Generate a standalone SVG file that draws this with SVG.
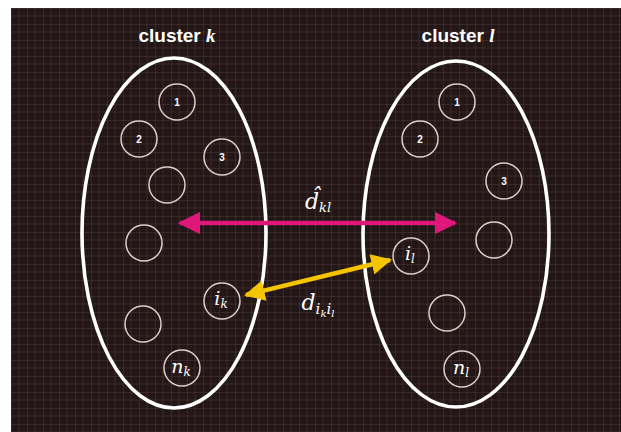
<svg xmlns="http://www.w3.org/2000/svg" width="621" height="432" viewBox="0 0 621 432">
<defs>
<pattern id="grid" x="11" y="8" width="16" height="16" patternUnits="userSpaceOnUse">
<rect width="16" height="16" fill="#231616"/>
<path d="M8 0V16M0 8H16" stroke="#3a2828" stroke-width="1"/>
<path d="M0 0V16M0 0H16" stroke="#4e3a3a" stroke-width="1"/>
</pattern>
<marker id="mh" viewBox="0 0 10 10" refX="9" refY="5" markerWidth="5" markerHeight="5" markerUnits="strokeWidth" orient="auto-start-reverse">
<path d="M0 0L10 5L0 10z" fill="#e0177a"/>
</marker>
<marker id="yh" viewBox="0 0 10 10" refX="9" refY="5" markerWidth="4.6" markerHeight="4.6" markerUnits="strokeWidth" orient="auto-start-reverse">
<path d="M0 0L10 5L0 10z" fill="#f5c400"/>
</marker>
</defs>
<style>
.cl{fill:none;stroke:#ffffff;stroke-width:3.6}
.nd{fill:none;stroke:#d9d0cc;stroke-width:1.5}
.num{font-family:"Liberation Sans",Arial,sans-serif;font-weight:bold;font-size:10px;fill:#ffffff;text-anchor:middle}
.var{font-family:"DejaVu Serif","Liberation Serif",serif;font-style:italic;font-size:19px;fill:#ffffff;text-anchor:middle}
.sub{font-size:12px}
.ttl{font-family:"Liberation Sans",Arial,sans-serif;font-weight:bold;font-size:19px;fill:#ffffff;text-anchor:middle}
</style>
<rect x="0" y="0" width="621" height="432" fill="#ffffff"/>
<rect x="11" y="8" width="610" height="424" fill="url(#grid)"/>

<g id="cluster-k">
<ellipse class="cl" cx="174" cy="233" rx="92" ry="175"/>
<text class="ttl" x="177" y="42">cluster <tspan font-style="italic" font-family="'Liberation Serif',serif">k</tspan></text>
</g>
<g id="cluster-l">
<ellipse class="cl" cx="456" cy="234" rx="93" ry="173"/>
<text class="ttl" x="458" y="42">cluster <tspan font-style="italic" font-family="'Liberation Serif',serif">l</tspan></text>
</g>

<g id="k1"><circle class="nd" cx="177" cy="102" r="18"/><text class="num" x="177" y="106">1</text></g>
<g id="k2"><circle class="nd" cx="139" cy="139" r="18"/><text class="num" x="139" y="143">2</text></g>
<g id="k3"><circle class="nd" cx="222" cy="157" r="18"/><text class="num" x="222" y="161">3</text></g>
<g id="k4"><circle class="nd" cx="167" cy="185" r="18"/></g>
<g id="k5"><circle class="nd" cx="144" cy="243" r="18"/></g>
<g id="ik"><circle class="nd" cx="222" cy="301" r="18"/><text class="var" x="221" y="305">i<tspan class="sub" dy="3">k</tspan></text></g>
<g id="k6"><circle class="nd" cx="143" cy="324" r="18"/></g>
<g id="nk"><circle class="nd" cx="182" cy="368" r="18"/><text class="var" x="181" y="373">n<tspan class="sub" dy="3">k</tspan></text></g>

<g id="l1"><circle class="nd" cx="457" cy="102" r="18"/><text class="num" x="457" y="106">1</text></g>
<g id="l2"><circle class="nd" cx="420" cy="139" r="18"/><text class="num" x="420" y="143">2</text></g>
<g id="l3"><circle class="nd" cx="504" cy="181" r="18"/><text class="num" x="504" y="185">3</text></g>
<g id="il"><circle class="nd" cx="411" cy="256" r="18"/><text class="var" x="410" y="260">i<tspan class="sub" dy="3">l</tspan></text></g>
<g id="l4"><circle class="nd" cx="494" cy="240" r="18"/></g>
<g id="l5"><circle class="nd" cx="447" cy="313" r="18"/></g>
<g id="nl"><circle class="nd" cx="462" cy="369" r="18"/><text class="var" x="461" y="374">n<tspan class="sub" dy="3">l</tspan></text></g>

<g id="connectors">
<line x1="180" y1="223" x2="455" y2="223" stroke="#e0177a" stroke-width="4.5" marker-start="url(#mh)" marker-end="url(#mh)"/>
<line x1="246" y1="295" x2="390" y2="260" stroke="#f5c400" stroke-width="4.5" marker-start="url(#yh)" marker-end="url(#yh)"/>
</g>
<g id="labels">
<text class="var" x="318" y="209" style="font-size:22px">d&#x302;<tspan dy="3" style="font-size:13px">kl</tspan></text>
<text class="var" x="318" y="310" style="font-size:22px">d<tspan dy="4" style="font-size:15px">i</tspan><tspan dy="3" style="font-size:10px">k</tspan><tspan dy="-3" style="font-size:15px">i</tspan><tspan dy="3" style="font-size:10px">l</tspan></text>
</g>
</svg>
